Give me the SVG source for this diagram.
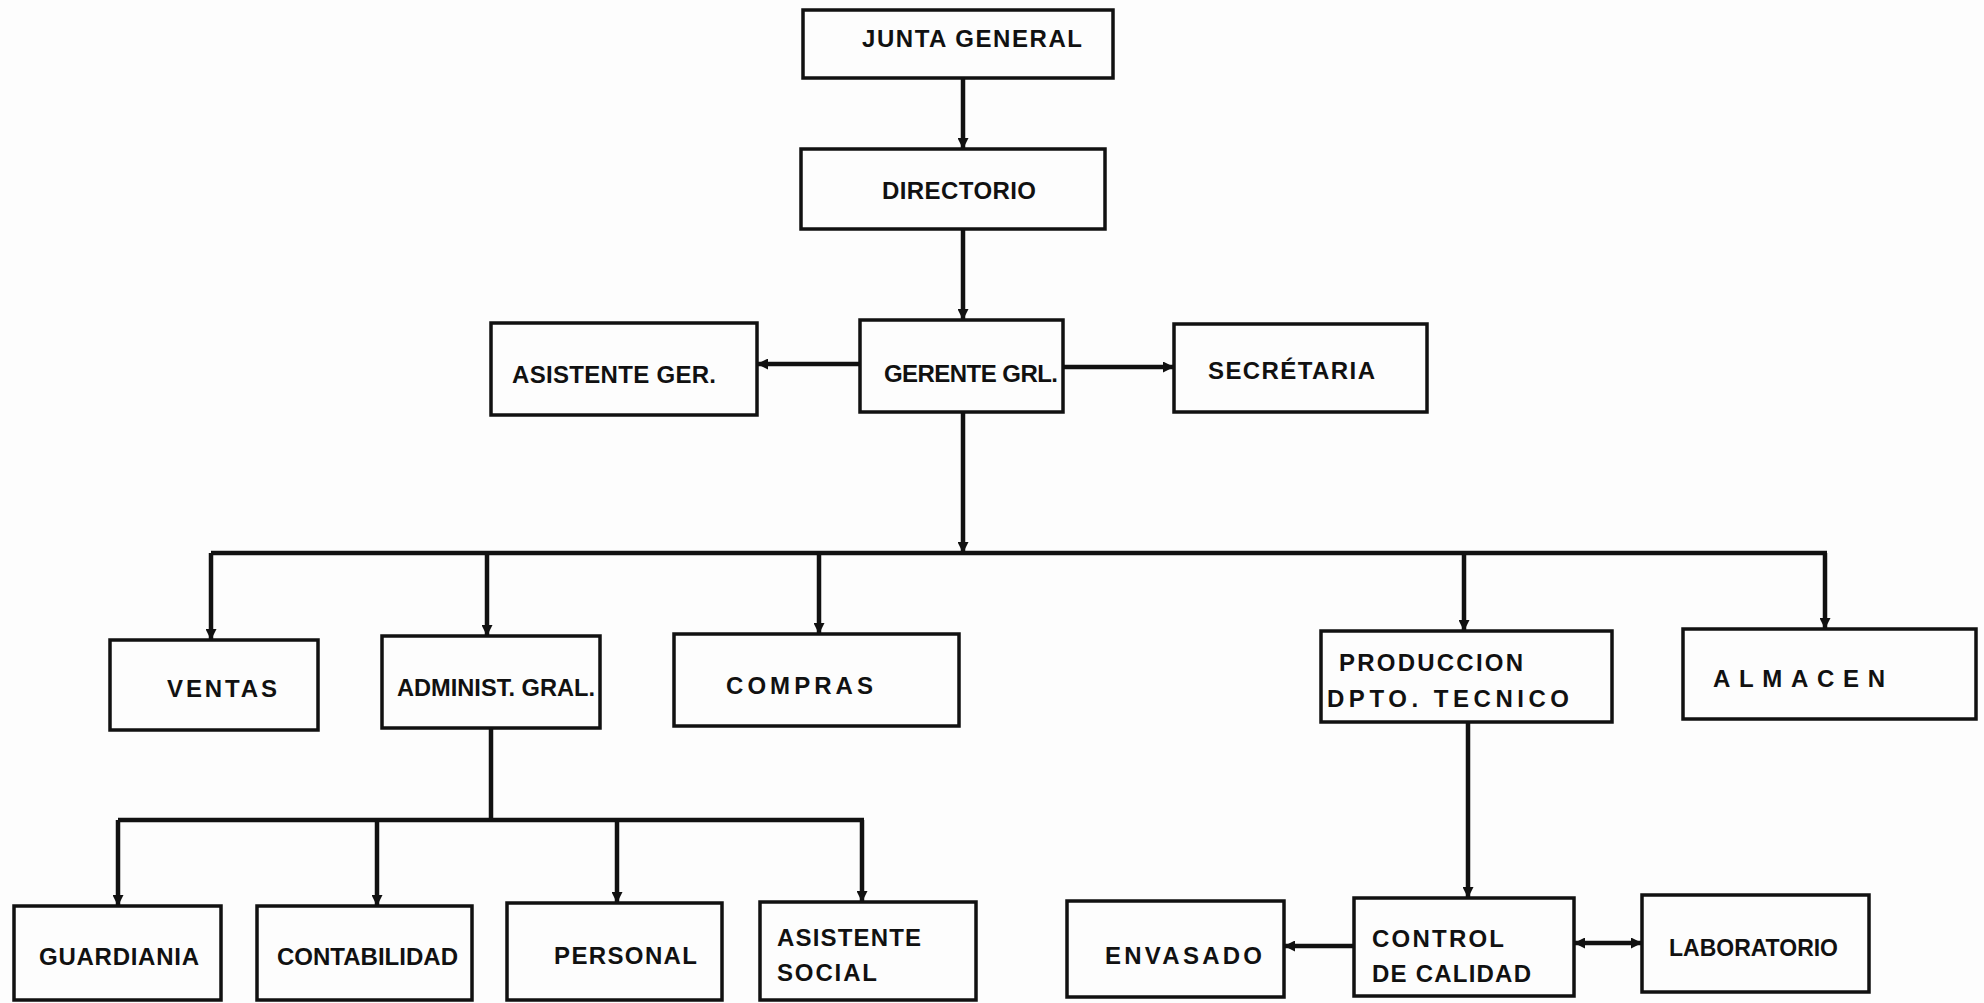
<svg xmlns="http://www.w3.org/2000/svg" width="1984" height="1003" viewBox="0 0 1984 1003">
<style>
.box{fill:#fdfdfd;stroke:#111;stroke-width:3.5}
.t{font-family:"Liberation Sans",Arial,sans-serif;font-weight:bold;font-size:24px;fill:#111;text-anchor:start}
.c{fill:none;stroke:#111;stroke-width:4.5}
</style>
<defs>
<marker id="ah" viewBox="0 0 10 10" markerWidth="18" markerHeight="11" refX="10" refY="5" orient="auto-start-reverse" markerUnits="userSpaceOnUse">
<path d="M0,0 L10,5 L0,10 z" fill="#111"/>
</marker>
</defs>
<rect width="1984" height="1003" fill="#fdfdfd"/>
<g id="connectors">
<path class="c" d="M963,78 V149" marker-end="url(#ah)"/>
<path class="c" d="M963,229 V320" marker-end="url(#ah)"/>
<path class="c" d="M860,364 H757" marker-end="url(#ah)"/>
<path class="c" d="M1063,367 H1174" marker-end="url(#ah)"/>
<path class="c" d="M963,412 V553" marker-end="url(#ah)"/>
<path class="c" d="M211,553 H1827"/>
<path class="c" d="M211,553 V640" marker-end="url(#ah)"/>
<path class="c" d="M487,553 V636" marker-end="url(#ah)"/>
<path class="c" d="M819,553 V634" marker-end="url(#ah)"/>
<path class="c" d="M1464,553 V631" marker-end="url(#ah)"/>
<path class="c" d="M1825,553 V629" marker-end="url(#ah)"/>
<path class="c" d="M491,728 V820"/>
<path class="c" d="M118,820 H864"/>
<path class="c" d="M118,820 V906" marker-end="url(#ah)"/>
<path class="c" d="M377,820 V906" marker-end="url(#ah)"/>
<path class="c" d="M617,820 V903" marker-end="url(#ah)"/>
<path class="c" d="M862,820 V902" marker-end="url(#ah)"/>
<path class="c" d="M1468,722 V898" marker-end="url(#ah)"/>
<path class="c" d="M1354,946 H1284" marker-end="url(#ah)"/>
<path class="c" d="M1574,943 H1642" marker-start="url(#ah)" marker-end="url(#ah)"/>
</g>
<g id="junta"><rect class="box" x="803" y="10" width="310" height="68"/><text class="t" x="862" y="47" textLength="220">JUNTA GENERAL</text></g>
<g id="directorio"><rect class="box" x="801" y="149" width="304" height="80"/><text class="t" x="882" y="199" textLength="154">DIRECTORIO</text></g>
<g id="gerente"><rect class="box" x="860" y="320" width="203" height="92"/><text class="t" x="884" y="382" textLength="174">GERENTE GRL.</text></g>
<g id="asistente-ger"><rect class="box" x="491" y="323" width="266" height="92"/><text class="t" x="512" y="383" textLength="204">ASISTENTE GER.</text></g>
<g id="secretaria"><rect class="box" x="1174" y="324" width="253" height="88"/><text class="t" x="1208" y="379" textLength="167">SECRÉTARIA</text></g>
<g id="ventas"><rect class="box" x="110" y="640" width="208" height="90"/><text class="t" x="167" y="697" textLength="110">VENTAS</text></g>
<g id="administ"><rect class="box" x="382" y="636" width="218" height="92"/><text class="t" x="397" y="696" textLength="198" lengthAdjust="spacingAndGlyphs">ADMINIST. GRAL.</text></g>
<g id="compras"><rect class="box" x="674" y="634" width="285" height="92"/><text class="t" x="726" y="694" textLength="147">COMPRAS</text></g>
<g id="produccion"><rect class="box" x="1321" y="631" width="291" height="91"/><text class="t" x="1339" y="671" textLength="184">PRODUCCION</text><text class="t" x="1327" y="707" textLength="242">DPTO. TECNICO</text></g>
<g id="almacen"><rect class="box" x="1683" y="629" width="293" height="90"/><text class="t" x="1713" y="687" textLength="172">ALMACEN</text></g>
<g id="guardiania"><rect class="box" x="14" y="906" width="207" height="94"/><text class="t" x="39" y="965" textLength="160">GUARDIANIA</text></g>
<g id="contabilidad"><rect class="box" x="257" y="906" width="215" height="94"/><text class="t" x="277" y="965" textLength="181" lengthAdjust="spacingAndGlyphs">CONTABILIDAD</text></g>
<g id="personal"><rect class="box" x="507" y="903" width="215" height="97"/><text class="t" x="554" y="964" textLength="143">PERSONAL</text></g>
<g id="asistente-social"><rect class="box" x="760" y="902" width="216" height="98"/><text class="t" x="777" y="946" textLength="144">ASISTENTE</text><text class="t" x="777" y="981" textLength="100">SOCIAL</text></g>
<g id="envasado"><rect class="box" x="1067" y="901" width="217" height="96"/><text class="t" x="1105" y="964" textLength="157">ENVASADO</text></g>
<g id="control"><rect class="box" x="1354" y="898" width="220" height="98"/><text class="t" x="1372" y="947" textLength="132">CONTROL</text><text class="t" x="1372" y="982" textLength="159">DE CALIDAD</text></g>
<g id="laboratorio"><rect class="box" x="1642" y="895" width="227" height="97"/><text class="t" x="1669" y="956" textLength="169" lengthAdjust="spacingAndGlyphs">LABORATORIO</text></g>
</svg>
